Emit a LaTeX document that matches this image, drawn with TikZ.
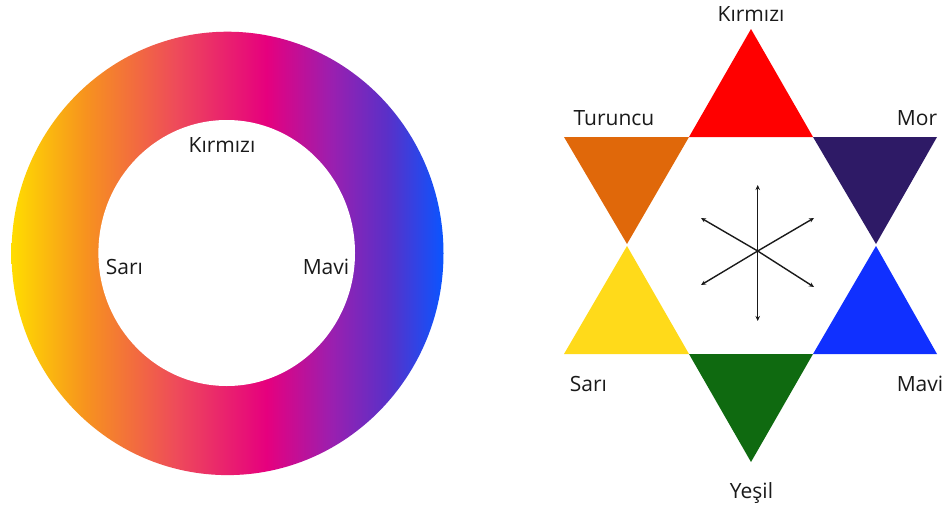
\documentclass[tikz,border=0pt]{standalone}
\usepackage{fontspec}
\setmainfont{Open Sans}
\usetikzlibrary{arrows.meta}
\definecolor{gy}{HTML}{FFDD00}
\definecolor{go}{HTML}{F7931E}
\definecolor{gr}{HTML}{EE4B5A}
\definecolor{gm}{HTML}{E6007E}
\definecolor{gp}{HTML}{9B1FAF}
\definecolor{gi}{HTML}{5A30C8}
\definecolor{gb}{HTML}{0A55FF}
\definecolor{tred}{HTML}{FF0000}
\definecolor{torange}{HTML}{E0680A}
\definecolor{tpurple}{HTML}{2E1A66}
\definecolor{tyellow}{HTML}{FFDA1A}
\definecolor{tblue}{HTML}{1030FF}
\definecolor{tgreen}{HTML}{0F6A10}
\definecolor{txt}{HTML}{1A1A1A}
\pgfdeclarehorizontalshading{ringgrad}{100bp}{color(0bp)=(gy); color(25bp)=(gy); color(33.5bp)=(go); color(44bp)=(gr); color(54.5bp)=(gm); color(62bp)=(gp); color(68.5bp)=(gi); color(75bp)=(gb); color(100bp)=(gb)}
\tikzset{
  lbl/.style={font=\fontsize{21}{24}\selectfont, text=txt, inner sep=0pt},
  arr/.style={line width=1.4pt, draw=txt, -{Stealth[length=5pt,width=4.5pt]}}
}
\begin{document}
\begin{tikzpicture}[x=1pt,y=-1pt]
\useasboundingbox[fill=white] (0,0) rectangle (950,514);
% ring
\shade[shading=ringgrad] (227.5,253.4) ellipse [x radius=216, y radius=221.7];
\fill[white] (226.7,253) ellipse [x radius=128.3, y radius=133];
\node[lbl] (rk) at (222,145) {Kırmızı};
\node[lbl] (rs) at (124.5,267) {Sarı};
\node[lbl] (rm) at (326,267) {Mavi};
% star
\fill[tred] (751,29) -- (813,137) -- (689,137) -- cycle;
\fill[torange] (564,137) -- (689,137) -- (627,244) -- cycle;
\fill[tpurple] (813,137) -- (937,137) -- (876,244) -- cycle;
\fill[tyellow] (627,246) -- (689,354) -- (564,354) -- cycle;
\fill[tblue] (876,246) -- (937,354) -- (813,354) -- cycle;
\fill[tgreen] (689,354) -- (813,354) -- (751,462) -- cycle;
\node[lbl] (sk) at (751,14) {Kırmızı};
\node[lbl] (st) at (614,118) {Turuncu};
\node[lbl] (sm) at (917,118) {Mor};
\node[lbl] (ss) at (588.5,384) {Sarı};
\node[lbl] (sv) at (920,384) {Mavi};
\node[lbl] (sy) at (751.5,493) {Yeşil};
% arrows
\coordinate (c) at (757.7,251);
\coordinate (a1) at (757.7,185);
\coordinate (a2) at (757.7,321);
\coordinate (a3) at (701,218);
\coordinate (a4) at (814,218);
\coordinate (a5) at (701,285);
\coordinate (a6) at (814,287);
\foreach \t in {a1,a2,a3,a4,a5,a6} \draw[arr] (c) -- (\t);
\end{tikzpicture}
\end{document}
